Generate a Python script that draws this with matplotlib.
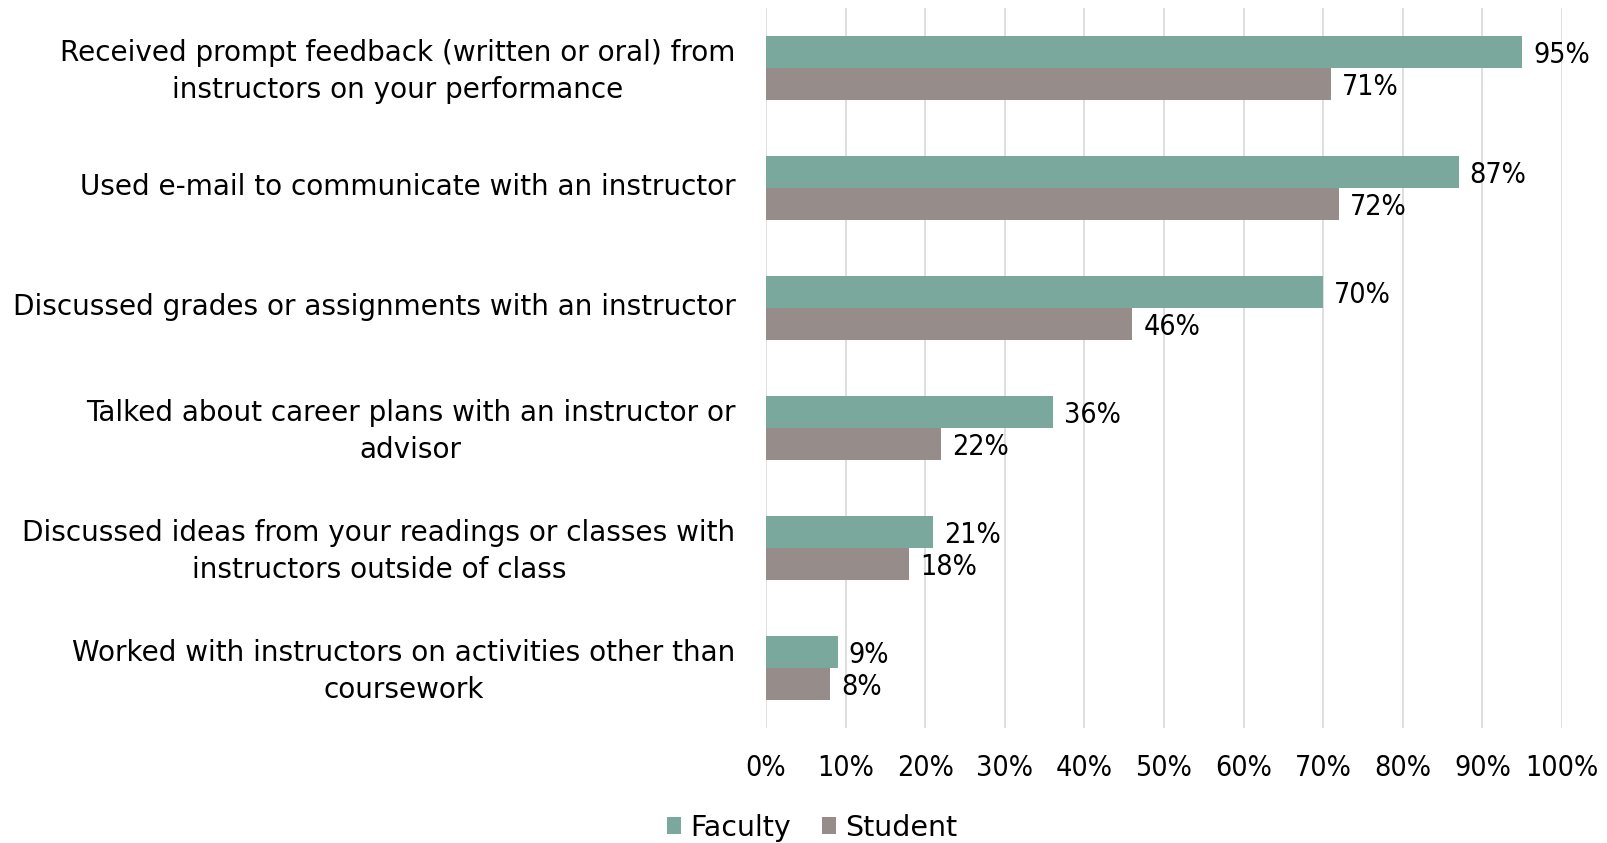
import matplotlib
matplotlib.use("Agg")
import matplotlib.pyplot as plt
from matplotlib.patches import Patch
from matplotlib.transforms import ScaledTranslation
import numpy as np

categories = [
    "Received prompt feedback (written or oral) from\ninstructors on your performance",
    "Used e-mail to communicate with an instructor",
    "Discussed grades or assignments with an instructor",
    "Talked about career plans with an instructor or\nadvisor",
    "Discussed ideas from your readings or classes with\ninstructors outside of class",
    "Worked with instructors on activities other than\ncoursework",
]
faculty = [95, 87, 70, 36, 21, 9]
student = [71, 72, 46, 22, 18, 8]
series_names = ["Faculty", "Student"]
xticks = [0, 10, 20, 30, 40, 50, 60, 70, 80, 90, 100]
xtick_labels = [f"{v}%" for v in xticks]

FAC_C = "#7BA89D"
STU_C = "#968C8A"
GRID_C = "#D9D9D9"

plt.rcParams['font.family'] = ['DejaVu Sans']
plt.rcParams['font.stretch'] = 'condensed'

fig = plt.figure(figsize=(16.08, 8.43), dpi=100)
W, H = 1608, 843
left, right, top, bottom = 766, 1562, 8, 728
ax = fig.add_axes([left / W, 1 - bottom / H, (right - left) / W, (bottom - top) / H])

y = np.arange(len(categories))
h = 0.267
ax.barh(y - h / 2, faculty, height=h, color=FAC_C, zorder=3)
ax.barh(y + h / 2, student, height=h, color=STU_C, zorder=3)

fs = 20.5
for yi, v in zip(y, faculty):
    ax.annotate(f"{v}%", (v, yi - h / 2), xytext=(8, -2), textcoords="offset points",
                va="center", ha="left", fontsize=fs, color="black")
for yi, v in zip(y, student):
    ax.annotate(f"{v}%", (v, yi + h / 2), xytext=(8, -2), textcoords="offset points",
                va="center", ha="left", fontsize=fs, color="black")

ax.set_xlim(0, 100)
ax.set_ylim(len(categories) - 0.5, -0.5)
ax.set_xticks(xticks)
ax.set_xticklabels(xtick_labels, fontsize=fs)
ax.set_yticks(y)
ax.set_yticklabels(categories, fontsize=20.1, ma="center", linespacing=1.42,
                   fontstretch="normal")
ax.tick_params(axis="both", length=0)
ax.tick_params(axis="x", pad=19)
ax.tick_params(axis="y", pad=22)
shift = ScaledTranslation(0, 3 / 72, fig.dpi_scale_trans)
for lab in ax.get_yticklabels():
    lab.set_transform(lab.get_transform() + shift)
for s in ax.spines.values():
    s.set_visible(False)
ax.grid(axis="x", color=GRID_C, linewidth=1.2, zorder=0)
ax.set_axisbelow(True)

handles = [Patch(facecolor=FAC_C, label=series_names[0]),
           Patch(facecolor=STU_C, label=series_names[1])]
leg = fig.legend(handles=handles, loc="lower center", bbox_to_anchor=(0.505, -0.022), ncol=2,
                 frameon=False, fontsize=fs, handlelength=0.5, handleheight=0.5,
                 handletextpad=0.3, columnspacing=1.1, borderpad=0.2)
for t in leg.get_texts():
    t.set_fontstretch("normal")

fig.savefig("out.png", dpi=100)
